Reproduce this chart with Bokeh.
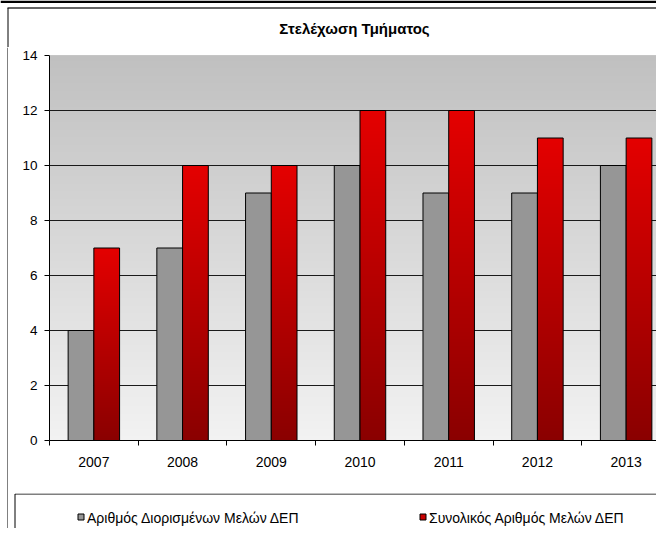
import numpy as np
from bokeh.plotting import figure
from bokeh.layouts import column, row
from bokeh.models import Range1d, FixedTicker, Span
from bokeh.core.properties import value
from bokeh.embed import file_html
from bokeh.resources import INLINE

# ---- data ----
years = ["2007", "2008", "2009", "2010", "2011", "2012", "2013"]
appointed = [4, 7, 9, 10, 9, 9, 10]
total = [7, 10, 10, 12, 12, 11, 11]
y_ticks = [0, 2, 4, 6, 8, 10, 12, 14]
title_text = "Στελέχωση Τμήματος"
series_names = ["Αριθμός Διορισμένων Μελών ΔΕΠ", "Συνολικός Αριθμός Μελών ΔΕΠ"]
series_colors = ["#969696", "#c80000"]

FONT = "Liberation Sans"
W, H = 656, 528
HEAD_H = 47
LEG_H = 35
bw = 0.29
xs = np.arange(len(years))
cat_px = 88.7  # pixel width of one category in the reference


def strip(w, h):
    f = figure(width=w, height=h, output_backend="svg", toolbar_location=None,
               title=None, x_range=Range1d(0, w), y_range=Range1d(h, 0),
               x_axis_type=None, y_axis_type=None, min_border=0)
    f.frame_align = False
    f.outline_line_color = None
    f.xgrid.visible = False
    f.ygrid.visible = False
    f.background_fill_color = "white"
    f.border_fill_color = "white"
    return f


# ---- header (outer frame top + title) ----
head = strip(W, HEAD_H)
head.quad(left=0, right=W, top=0, bottom=2.5, fill_color="black", line_color=None)
head.segment(x0=7, y0=7.5, x1=W, y1=7.5, line_color="#303030", line_width=1.5)
head.segment(x0=7.5, y0=7.5, x1=7.5, y1=HEAD_H, line_color="black", line_width=1)
head.text(x=[354], y=[28], text=[title_text], text_align="center", text_baseline="middle",
          text_font=value(FONT), text_font_size="15px", text_font_style="bold",
          text_color="black")

# ---- left strip (outer frame) ----
left = strip(8, H - HEAD_H)
left.segment(x0=7.5, y0=0, x1=7.5, y1=H, line_color="black", line_width=1)

# ---- main chart ----
PW = W - 8
PH = H - HEAD_H - LEG_H
p = figure(width=PW, height=PH, output_backend="svg", toolbar_location=None, title=None,
           x_range=Range1d(-0.5, len(years) - 0.5 - 14 / cat_px), y_range=Range1d(0, 14),
           min_border_left=41, min_border_right=0, min_border_top=8,
           min_border_bottom=PH - 8 - 385)
p.frame_align = False
p.border_fill_color = "white"
p.background_fill_color = "#e0e0e0"
p.outline_line_color = None


def grad(n, top_c, bottom_c):
    t = np.linspace(0, 1, n)
    img = np.zeros((n, 1), dtype=np.uint32)
    v = img.view(dtype=np.uint8).reshape((n, 1, 4))
    for k in range(3):
        v[:, 0, k] = np.round(bottom_c[k] + (top_c[k] - bottom_c[k]) * t).astype(np.uint8)
    v[:, 0, 3] = 255
    return img


# plot-area gradient background
p.image_rgba(image=[grad(256, (192, 192, 192), (242, 242, 242))],
             x=-0.5, y=0, dw=len(years), dh=14, level="image")

# grid
p.xgrid.visible = False
p.ygrid.ticker = FixedTicker(ticks=y_ticks[1:-1])
p.ygrid.grid_line_color = "#1a1a1a"
p.ygrid.grid_line_width = 1
p.add_layout(Span(location=14, dimension="width", line_color="#a8a8a8", line_width=1))

# gray bars
p.vbar(x=xs - bw / 2, top=appointed, width=bw, bottom=0,
       fill_color=series_colors[0], line_color="black", line_width=1)

# red gradient bars
red_img = grad(256, (228, 0, 0), (138, 0, 0))
p.image_rgba(image=[red_img] * len(years), x=list(xs), y=[0] * len(years),
             dw=[bw] * len(years), dh=total)
p.vbar(x=xs + bw / 2, top=total, width=bw, bottom=0,
       fill_color=None, line_color="black", line_width=1)

# axes
p.yaxis.ticker = FixedTicker(ticks=y_ticks)
p.yaxis.major_tick_out = 5
p.yaxis.major_tick_in = 0
p.yaxis.minor_tick_line_color = None
p.yaxis.axis_line_color = "black"
p.yaxis.major_tick_line_color = "black"
p.yaxis.major_label_text_font = FONT
p.yaxis.major_label_text_font_size = "13.5px"
p.yaxis.major_label_text_color = "black"
p.yaxis.major_label_standoff = 7

p.xaxis.ticker = FixedTicker(ticks=list(xs), minor_ticks=[i - 0.5 for i in range(len(years) + 1)])
p.xaxis.major_label_overrides = {int(i): years[i] for i in xs}
p.xaxis.major_tick_out = 0
p.xaxis.major_tick_in = 0
p.xaxis.minor_tick_out = 5
p.xaxis.minor_tick_in = 0
p.xaxis.minor_tick_line_color = "black"
p.xaxis.axis_line_color = "black"
p.xaxis.major_label_text_font = FONT
p.xaxis.major_label_text_font_size = "14px"
p.xaxis.major_label_text_color = "black"
p.xaxis.major_label_standoff = 11

# ---- legend strip ----
leg = strip(PW, LEG_H)
leg.quad(left=6.5, right=PW + 10, top=0.5, bottom=60, fill_color="white",
         line_color="black", line_width=1)
sw_x = [69.5, 411.5]
leg.quad(left=sw_x, right=[s + 6 for s in sw_x], top=[20.5, 20.5], bottom=[26.5, 26.5],
         fill_color=series_colors, line_color="black", line_width=1)
leg.text(x=[s + 9 for s in sw_x], y=[24, 24], text=series_names,
         text_align="left", text_baseline="middle",
         text_font=value(FONT), text_font_size="14px", text_color="black")

layout = column(head, row(left, column(p, leg, spacing=0), spacing=0), spacing=0)
open("out.html", "w").write(file_html(layout, INLINE))
